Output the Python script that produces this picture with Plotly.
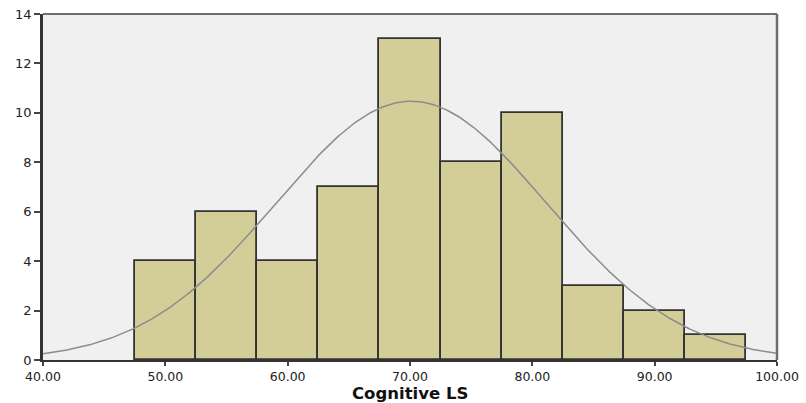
import numpy as np
import plotly.graph_objects as go

# Histogram of Cognitive LS scores (bin width 5)
bin_centers = [50, 55, 60, 65, 70, 75, 80, 85, 90, 95]
counts = [4, 6, 4, 7, 13, 8, 10, 3, 2, 1]
bin_width = 5
x_ticks = [40, 50, 60, 70, 80, 90, 100]
y_ticks = [0, 2, 4, 6, 8, 10, 12, 14]
x_title = "Cognitive LS"

# Fitted normal curve parameters
mean_score = 70.1
sd_score = 11.05
n_total = sum(counts)

xs = np.linspace(40, 100, 400)
curve = n_total * bin_width / (sd_score * np.sqrt(2 * np.pi)) * np.exp(-0.5 * ((xs - mean_score) / sd_score) ** 2)

fig = go.Figure()
fig.add_trace(go.Bar(
    x=bin_centers, y=counts, width=bin_width,
    marker=dict(color="#D3CE98", line=dict(color="#333333", width=1.8)),
    showlegend=False, hoverinfo="x+y",
))
fig.add_trace(go.Scatter(
    x=xs, y=curve, mode="lines",
    line=dict(color="#8C8C8C", width=1.5),
    showlegend=False, hoverinfo="skip",
))

font_family = "DejaVu Sans, Verdana, sans-serif"
fig.update_layout(
    width=806, height=403,
    margin=dict(l=43, r=29, t=14, b=43),
    paper_bgcolor="white",
    plot_bgcolor="#F0F0F0",
    bargap=0,
    font=dict(family=font_family, size=13, color="#222222"),
    xaxis=dict(
        range=[40, 100], tickvals=x_ticks,
        ticktext=[f"{v:.2f}" for v in x_ticks],
        ticks="outside", ticklen=4, tickcolor="#444444", tickwidth=1.5,
        showgrid=False, zeroline=False, automargin=False,
        showline=True, linecolor="#333333", linewidth=2, mirror=False,
        tickfont=dict(size=12.5, color="#222222"),
    ),
    yaxis=dict(
        range=[0, 14], tickvals=y_ticks,
        ticks="outside", ticklen=6, tickcolor="#444444", tickwidth=1.5,
        showgrid=False, zeroline=False, automargin=False,
        showline=True, linecolor="#333333", linewidth=2.5, mirror=False,
        tickfont=dict(size=13, color="#222222"),
    ),
    annotations=[
        dict(text=f"<b>{x_title}</b>", xref="paper", yref="paper",
             x=0.5, y=-0.064, xanchor="center", yanchor="top",
             showarrow=False, font=dict(size=16.5, color="#111111")),
    ],
    shapes=[
        dict(type="line", xref="paper", yref="paper", x0=0, x1=1, y0=1, y1=1,
             line=dict(color="#6E6E6E", width=2)),
        dict(type="line", xref="paper", yref="paper", x0=1, x1=1, y0=0, y1=1,
             line=dict(color="#6E6E6E", width=2.5)),
    ],
)

fig.write_html("out.html")
